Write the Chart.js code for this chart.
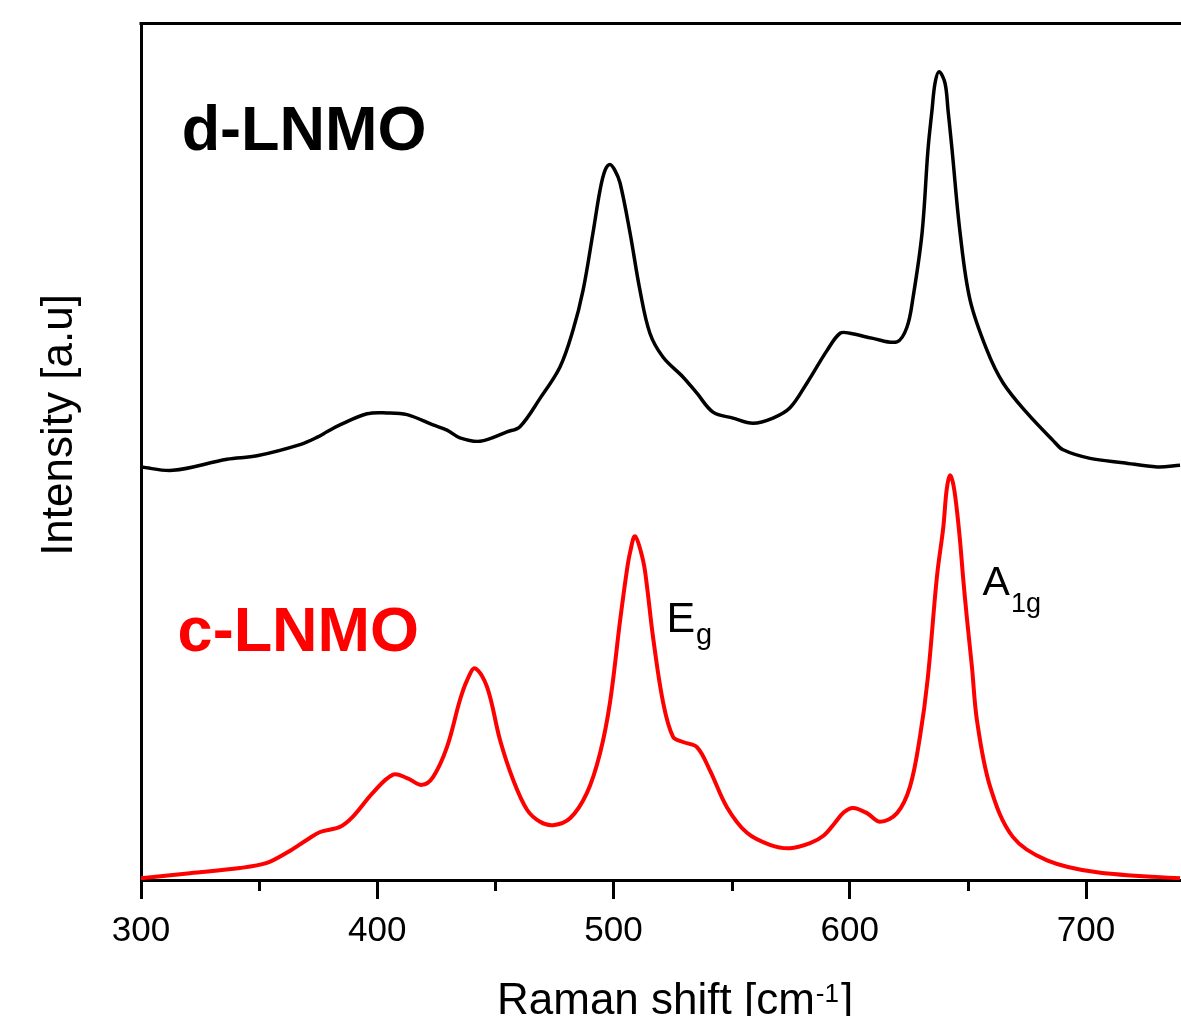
<!DOCTYPE html>
<html><head><meta charset="utf-8">
<script src="https://cdn.jsdelivr.net/npm/chart.js@4.4.1/dist/chart.umd.min.js"></script>
<style>html,body{margin:0;padding:0;background:#fff;overflow:hidden}#wrap{width:1181px;height:1016px;position:relative}canvas{display:block}</style>
</head><body><div id="wrap"><canvas id="c" width="1181" height="1016"></canvas></div>
<script>
// ---- data ----
const dShift = [300.0,313.5,336.4,349.1,367.3,374.9,378.7,384.2,395.7,404.1,412.6,423.6,429.5,435.0,443.5,454.9,460.4,468.9,477.4,482.9,487.1,491.3,494.3,496.4,498.5,500.6,502.8,507.0,511.2,515.4,521.0,529.4,535.3,542.1,550.6,559.0,567.5,574.7,581.9,590.4,595.9,600.1,609.8,620.0,624.2,626.8,630.6,633.1,634.8,636.1,637.8,640.3,641.6,643.3,646.7,650.9,658.1,664.9,675.0,686.0,690.3,701.7,715.7,730.1,739.8];
const dIntensity = [48.2,47.8,49.1,49.5,50.8,51.7,52.3,53.1,54.4,54.5,54.3,53.1,52.5,51.6,51.2,52.3,52.9,56.2,59.9,64.2,68.8,75.5,80.5,82.8,83.5,82.8,81.3,75.5,68.8,63.8,61.0,58.7,56.8,54.6,53.9,53.3,53.9,55.1,58.0,61.8,63.8,63.8,63.2,62.8,64.5,68.0,75.5,85.2,89.8,93.0,94.3,93.0,89.8,85.2,75.5,67.7,61.8,58.0,54.5,51.3,50.2,49.2,48.7,48.2,48.4];
const cShift = [300.0,320.7,341.9,353.3,361.8,370.3,375.8,384.2,389.7,398.2,406.7,412.6,418.9,423.6,429.5,435.0,438.0,441.4,446.5,452.0,457.5,463.4,468.9,474.4,481.6,488.8,494.3,498.5,502.8,505.7,507.0,509.1,512.5,514.2,516.7,521.0,525.2,529.4,535.3,540.8,548.0,556.5,566.2,574.7,583.2,589.0,593.5,597.5,601.4,607.3,612.8,620.0,625.5,629.7,633.0,636.9,639.6,641.0,642.4,643.8,645.2,646.7,648.0,649.6,651.7,653.9,659.4,669.1,683.5,704.7,739.8];
const cIntensity = [0.2,0.8,1.4,2.0,3.2,4.7,5.6,6.2,7.4,10.2,12.3,11.9,11.1,12.0,15.5,21.0,23.3,24.7,22.5,16.3,11.7,8.2,6.8,6.4,7.2,10.2,14.8,20.7,30.3,36.2,38.2,40.1,37.3,34.2,28.4,20.7,16.7,16.1,15.5,12.8,8.5,5.5,4.1,3.7,4.3,5.2,6.6,7.9,8.4,7.8,6.8,7.8,10.9,16.7,23.5,35.4,41.2,45.5,47.2,46.2,43.5,39.5,35.2,30.5,24.9,18.5,10.9,5.0,2.3,0.9,0.2];
const xMajorTicks = [300,400,500,600,700];
const xMinorTicks = [350,450,550,650];
const seriesNames = ['d-LNMO','c-LNMO'];
const yTitleText = 'Intensity [a.u]';
const xTitleParts = ['Raman shift [cm','-1',']'];
const peakNames = [['E','g'],['A','1g']];

// ---- chart ----
const FONT = "'Liberation Sans', Arial, sans-serif";
const toXY = (xs, ys) => xs.map((v, i) => ({x: v, y: ys[i]}));

const decor = {
  id: 'decor',
  afterDraw(chart) {
    const {ctx, chartArea: a, scales: {x, y}} = chart;
    ctx.save();
    ctx.strokeStyle = '#000';
    ctx.lineWidth = 3;
    ctx.beginPath(); ctx.moveTo(a.left - 1.5, a.top + 0.5); ctx.lineTo(a.right, a.top + 0.5); ctx.stroke();
    xMinorTicks.forEach(v => {
      const px = Math.round(x.getPixelForValue(v)) + 0.5;
      ctx.beginPath(); ctx.moveTo(px, a.bottom); ctx.lineTo(px, a.bottom + 11); ctx.stroke();
    });
    ctx.fillStyle = '#000';
    ctx.textBaseline = 'alphabetic';
    ctx.save();
    ctx.translate(72, 425);
    ctx.rotate(-Math.PI / 2);
    ctx.font = `44px ${FONT}`;
    ctx.textAlign = 'center';
    ctx.fillText(yTitleText, 0, 0);
    ctx.restore();
    ctx.textAlign = 'left';
    let tx = 497, ty = 1014;
    ctx.font = `44px ${FONT}`;
    ctx.fillText(xTitleParts[0], tx, ty); tx += ctx.measureText(xTitleParts[0]).width + 1;
    ctx.font = `26px ${FONT}`;
    ctx.fillText(xTitleParts[1], tx, ty - 12); tx += ctx.measureText(xTitleParts[1]).width + 2;
    ctx.font = `44px ${FONT}`;
    ctx.fillText(xTitleParts[2], tx, ty);
    ctx.font = `bold 63px ${FONT}`;
    ctx.fillStyle = '#000';
    ctx.fillText(seriesNames[0], x.getPixelForValue(317.2), y.getPixelForValue(85.2));
    ctx.fillStyle = '#ff0000';
    ctx.fillText(seriesNames[1], x.getPixelForValue(315.5), y.getPixelForValue(26.7));
    ctx.fillStyle = '#000';
    const peakPos = [[522.4, 28.9, 43, 29, 12], [656.2, 33.3, 41, 27, 17]];
    peakNames.forEach((p, i) => {
      const [vx, vy, fs, ss, dy] = peakPos[i];
      const px = x.getPixelForValue(vx), py = y.getPixelForValue(vy);
      ctx.font = `${fs}px ${FONT}`;
      ctx.fillText(p[0], px, py);
      const w = ctx.measureText(p[0]).width;
      ctx.font = `${ss}px ${FONT}`;
      ctx.fillText(p[1], px + w + 1, py + dy);
    });
    ctx.restore();
  }
};

new Chart(document.getElementById('c'), {
  type: 'line',
  data: {
    datasets: [
      {label: seriesNames[0], data: toXY(dShift, dIntensity), borderColor: '#000000', borderWidth: 3.5, pointRadius: 0, fill: false, tension: 0.35},
      {label: seriesNames[1], data: toXY(cShift, cIntensity), borderColor: '#ff0000', borderWidth: 4, pointRadius: 0, fill: false, tension: 0.35}
    ]
  },
  options: {
    responsive: false,
    animation: false,
    devicePixelRatio: 1,
    layout: {padding: {top: 23, right: 0, left: 0, bottom: 0}},
    plugins: {legend: {display: false}, tooltip: {enabled: false}},
    events: [],
    scales: {
      x: {
        type: 'linear', min: 300, max: 740.2,
        afterFit(s) { s.height = 136; },
        afterBuildTicks(s) { s.ticks = xMajorTicks.map(v => ({value: v})); },
        grid: {display: true, drawOnChartArea: false, drawTicks: true, tickLength: 19, tickWidth: 3, tickColor: '#000'},
        border: {display: true, width: 3, color: '#000'},
        ticks: {color: '#000', font: {family: FONT, size: 35}, padding: 11, maxRotation: 0, autoSkip: false}
      },
      y: {
        type: 'linear', min: 0, max: 100,
        afterFit(s) { s.width = 141; },
        grid: {display: false},
        border: {display: true, width: 3, color: '#000'},
        ticks: {display: false}
      }
    }
  },
  plugins: [decor]
});
</script>
</body></html>
